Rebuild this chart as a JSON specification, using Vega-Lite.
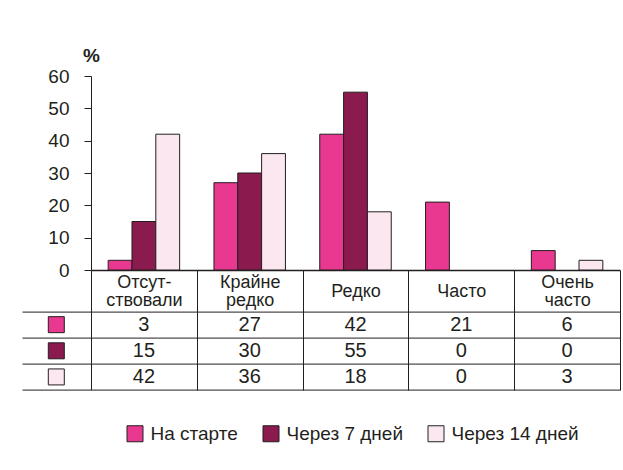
{
  "$schema": "https://vega.github.io/schema/vega-lite/v6.json",
  "padding": {"left": 22, "top": 46, "right": 3, "bottom": 5},
  "background": "white",
  "config": {"view": {"stroke": null}, "font": "Liberation Sans"},
  "datasets": {
    "d": [
      {"category": "Отсут-ствовали", "series": "На старте", "value": 3},
      {"category": "Отсут-ствовали", "series": "Через 7 дней", "value": 15},
      {"category": "Отсут-ствовали", "series": "Через 14 дней", "value": 42},
      {"category": "Крайне редко", "series": "На старте", "value": 27},
      {"category": "Крайне редко", "series": "Через 7 дней", "value": 30},
      {"category": "Крайне редко", "series": "Через 14 дней", "value": 36},
      {"category": "Редко", "series": "На старте", "value": 42},
      {"category": "Редко", "series": "Через 7 дней", "value": 55},
      {"category": "Редко", "series": "Через 14 дней", "value": 18},
      {"category": "Часто", "series": "На старте", "value": 21},
      {"category": "Часто", "series": "Через 7 дней", "value": 0},
      {"category": "Часто", "series": "Через 14 дней", "value": 0},
      {"category": "Очень часто", "series": "На старте", "value": 6},
      {"category": "Очень часто", "series": "Через 7 дней", "value": 0},
      {"category": "Очень часто", "series": "Через 14 дней", "value": 3}
    ],
    "blank": [{"t": ""}]
  },
  "columns": 2,
  "spacing": {"row": 41.6, "column": 0},
  "bounds": "flush",
  "align": "each",
  "resolve": {"scale": {"color": "shared"}},
  "concat": [
    {
      "width": 68.6,
      "height": 194,
      "data": {"name": "blank"},
      "mark": {"type": "text"},
      "encoding": {"text": {"field": "t"}}
    },
    {
      "width": 529,
      "height": 194,
      "data": {"name": "d"},
      "transform": [{"filter": "datum.value > 0"}],
      "mark": {"type": "bar", "stroke": "#231f20", "strokeWidth": 1},
      "encoding": {
        "x": {
          "field": "category",
          "type": "nominal",
          "sort": ["Отсут-ствовали", "Крайне редко", "Редко", "Часто", "Очень часто"],
          "scale": {"paddingInner": 0, "paddingOuter": 0},
          "axis": {
            "title": null,
            "labelExpr": "indexof(datum.label, ' ') >= 0 ? [split(datum.label, ' ')[0], '\u2800', split(datum.label, ' ')[1]] : (indexof(datum.label, '-') >= 0 ? [split(datum.label, '-')[0] + '-', '\u2800', split(datum.label, '-')[1]] : ['\u2800', datum.label])",
            "labelAngle": 0,
            "labelFontSize": 18,
            "labelColor": "#231f20",
            "labelBaseline": "middle",
            "labelPadding": -29.3,
            "labelLineHeight": 9,
            "labelOverlap": false,
            "tickBand": "extent",
            "tickSize": 42,
            "tickColor": "#231f20",
            "tickWidth": 1,
            "domainColor": "#231f20",
            "domainWidth": 1.5
          }
        },
        "xOffset": {
          "field": "series",
          "sort": ["На старте", "Через 7 дней", "Через 14 дней"],
          "scale": {"paddingInner": 0, "paddingOuter": 0.72}
        },
        "y": {
          "field": "value",
          "type": "quantitative",
          "scale": {"domain": [0, 60], "nice": false},
          "axis": {
            "values": [0, 10, 20, 30, 40, 50, 60],
            "grid": false,
            "title": "%",
            "titleAngle": 0,
            "titleAlign": "center",
            "titleBaseline": "middle",
            "titleX": 0,
            "titleY": -21,
            "titleFontSize": 19,
            "titleFontWeight": "bold",
            "titleColor": "#231f20",
            "labelFontSize": 19,
            "labelColor": "#231f20",
            "labelPadding": 15,
            "tickSize": 7,
            "tickColor": "#231f20",
            "domainColor": "#231f20"
          }
        },
        "color": {
          "field": "series",
          "type": "nominal",
          "scale": {
            "domain": ["На старте", "Через 7 дней", "Через 14 дней"],
            "range": ["#e8388f", "#8b1a4f", "#fbe7f0"]
          },
          "legend": {
            "orient": "none",
            "legendX": 103.5,
            "legendY": 348,
            "direction": "horizontal",
            "title": null,
            "symbolType": "square",
            "symbolSize": 256,
            "symbolStrokeColor": "#231f20",
            "symbolStrokeWidth": 1,
            "symbolOpacity": 1,
            "labelFontSize": 19,
            "labelColor": "#231f20",
            "labelOffset": 6,
            "columnPadding": 22
          }
        }
      }
    },
    {
      "width": 68.6,
      "height": 78.4,
      "data": {"name": "d"},
      "transform": [{"filter": "datum.category === 'Редко'"}],
      "mark": {"type": "square", "size": 256, "filled": true, "stroke": "#231f20", "strokeWidth": 1, "opacity": 1},
      "encoding": {
        "y": {
          "field": "series",
          "type": "nominal",
          "sort": ["На старте", "Через 7 дней", "Через 14 дней"],
          "scale": {"type": "band", "paddingInner": 0, "paddingOuter": 0},
          "axis": {
            "title": null,
            "labels": false,
            "ticks": false,
            "domain": false,
            "grid": true,
            "tickBand": "extent",
            "gridColor": "#231f20",
            "gridOpacity": 1,
            "gridWidth": 1
          }
        },
        "color": {"field": "series", "type": "nominal"}
      }
    },
    {
      "width": 529,
      "height": 78.4,
      "data": {"name": "d"},
      "mark": {"type": "text", "fontSize": 20, "color": "#231f20"},
      "encoding": {
        "x": {
          "field": "category",
          "type": "nominal",
          "sort": ["Отсут-ствовали", "Крайне редко", "Редко", "Часто", "Очень часто"],
          "scale": {"type": "band", "paddingInner": 0, "paddingOuter": 0},
          "axis": {
            "title": null,
            "labels": false,
            "ticks": false,
            "domain": false,
            "grid": true,
            "tickBand": "extent",
            "gridColor": "#231f20",
            "gridOpacity": 1,
            "gridWidth": 1
          }
        },
        "y": {
          "field": "series",
          "type": "nominal",
          "sort": ["На старте", "Через 7 дней", "Через 14 дней"],
          "scale": {"type": "band", "paddingInner": 0, "paddingOuter": 0},
          "axis": {
            "title": null,
            "labels": false,
            "ticks": false,
            "domain": false,
            "grid": true,
            "tickBand": "extent",
            "gridColor": "#231f20",
            "gridOpacity": 1,
            "gridWidth": 1
          }
        },
        "text": {"field": "value", "type": "quantitative"}
      }
    }
  ]
}
